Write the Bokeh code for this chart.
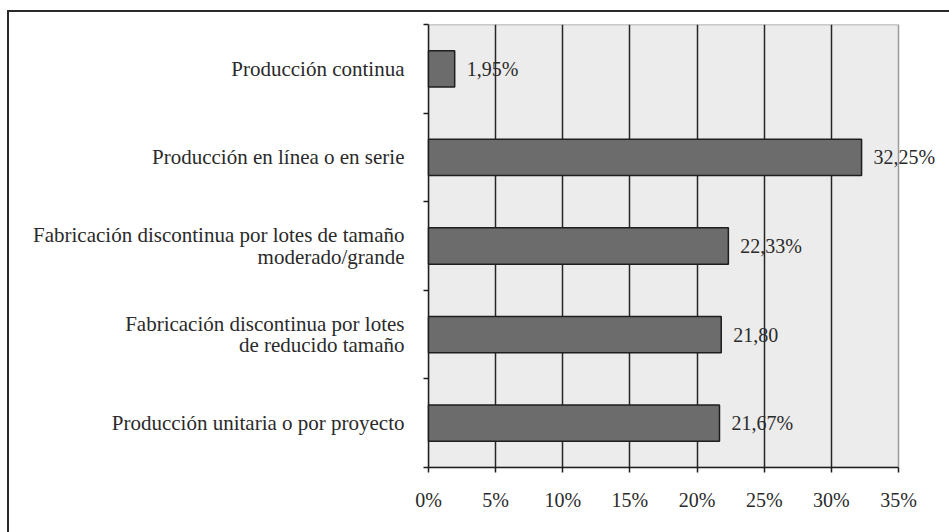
from bokeh.plotting import figure
from bokeh.models import Range1d, FixedTicker, ColumnDataSource, LabelSet, Column
from bokeh.embed import file_html
from bokeh.resources import INLINE

categories = [
    "Producción continua",
    "Producción en línea o en serie",
    "Fabricación discontinua por lotes de tamaño\nmoderado/grande",
    "Fabricación discontinua por lotes\nde reducido tamaño",
    "Producción unitaria o por proyecto",
]
values = [1.95, 32.25, 22.33, 21.80, 21.67]
value_labels = ["1,95%", "32,25%", "22,33%", "21,80", "21,67%"]
x_ticks = [0, 5, 10, 15, 20, 25, 30, 35]
x_tick_labels = ["0%", "5%", "10%", "15%", "20%", "25%", "30%", "35%"]

n = len(categories)
ypos = [n - 1 - i for i in range(n)]
x_max = x_ticks[-1]

src = ColumnDataSource(dict(y=ypos, v=values, lab=value_labels))

FONT = "Liberation Serif"
TXT = "#2a2a2a"

p = figure(width=940, height=520, x_range=Range1d(0, x_max * 521 / 470), y_range=Range1d(-0.5, n - 0.5),
           output_backend="svg", toolbar_location=None,
           min_border_left=419, min_border_right=0, min_border_top=12, min_border_bottom=65)

p.background_fill_color = "white"
p.border_fill_color = "white"
p.outline_line_color = None

# plot area panel
p.quad(left=[0], right=[x_max], bottom=[-0.5], top=[n - 0.5],
       fill_color="#ececec", line_color="#9a9a9a", line_width=1.5)

p.xgrid.ticker = FixedTicker(ticks=x_ticks[1:-1])
p.xgrid.grid_line_color = "#262626"
p.xgrid.grid_line_width = 1.5
p.xgrid.bounds = (x_ticks[0], x_max)
p.ygrid.grid_line_color = None
p.xgrid.level = "glyph"

p.hbar(y="y", right="v", left=0, height=0.41, source=src,
       fill_color="#6c6c6c", line_color="#1e1e1e", line_width=1.5, level="annotation")

p.add_layout(LabelSet(x="v", y="y", text="lab", source=src, x_offset=12,
                      text_baseline="middle", text_font=FONT, text_font_size="20px",
                      text_color=TXT))

# x axis
p.xaxis.ticker = FixedTicker(ticks=x_ticks)
p.xaxis.bounds = (x_ticks[0], x_max)
p.xaxis.major_label_overrides = {t: l for t, l in zip(x_ticks, x_tick_labels)}
p.xaxis.axis_line_color = "#1e1e1e"
p.xaxis.axis_line_width = 1.5
p.xaxis.major_tick_line_color = "#1e1e1e"
p.xaxis.major_tick_line_width = 1.5
p.xaxis.major_tick_out = 5
p.xaxis.major_tick_in = 0
p.xaxis.minor_tick_line_color = None
p.xaxis.major_label_standoff = 16
p.xaxis.major_label_text_font = FONT
p.xaxis.major_label_text_font_size = "20px"
p.xaxis.major_label_text_color = TXT

# y axis
p.yaxis.ticker = FixedTicker(ticks=ypos, minor_ticks=[k - 0.5 for k in range(n + 1)])
p.yaxis.major_label_overrides = {y: c for y, c in zip(ypos, categories)}
p.yaxis.axis_line_color = "#1e1e1e"
p.yaxis.axis_line_width = 1.5
p.yaxis.major_tick_line_color = None
p.yaxis.major_tick_out = 0
p.yaxis.major_tick_in = 0
p.yaxis.minor_tick_line_color = "#1e1e1e"
p.yaxis.minor_tick_line_width = 1.5
p.yaxis.minor_tick_out = 5
p.yaxis.minor_tick_in = 0
p.yaxis.major_label_standoff = 19
p.yaxis.major_label_text_font = FONT
p.yaxis.major_label_text_font_size = "21px"
p.yaxis.major_label_text_line_height = 0.9
p.yaxis.major_label_text_color = TXT

root = Column(children=[p], styles={"margin-left": "7px", "margin-top": "10px",
                                    "border-left": "2px solid #2a2a2a",
                                    "border-top": "2px solid #2a2a2a"})

open("out.html", "w").write(file_html(root, INLINE))
